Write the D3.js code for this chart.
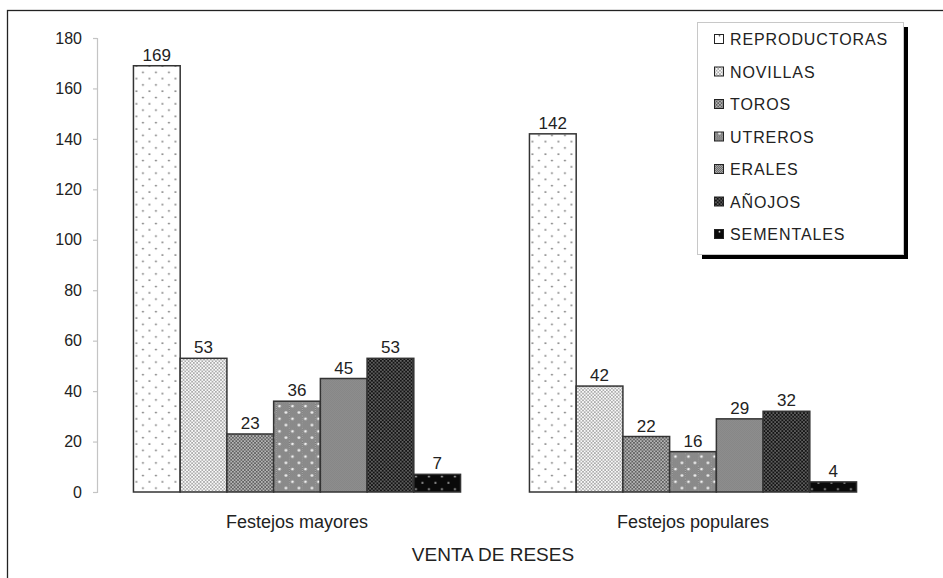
<!DOCTYPE html>
<html>
<head>
<meta charset="utf-8">
<script src="https://cdn.jsdelivr.net/npm/d3@7"></script>
<style>
  body { margin: 0; background: #fff; }
  svg { font-family: "Liberation Sans", Arial, sans-serif; }
</style>
</head>
<body>
<div id="chart"></div>
<script>
const w = 943;
const h = 578;

// data
const groups = ["Festejos mayores", "Festejos populares"];
const series = ["REPRODUCTORAS", "NOVILLAS", "TOROS", "UTREROS", "ERALES", "AÑOJOS", "SEMENTALES"];
const mayores = [169, 53, 23, 36, 45, 53, 7];
const populares = [142, 42, 22, 16, 29, 32, 4];
const yTicks = [0, 20, 40, 60, 80, 100, 120, 140, 160, 180];
const xTitle = "VENTA DE RESES";

const values = [mayores, populares];

const svg = d3.select("#chart").append("svg")
    .attr("width", w)
    .attr("height", h);

// outer frame (right/bottom sides fall off the picture)
svg.append("rect")
    .attr("x", 7.5).attr("y", 10.5)
    .attr("width", 945).attr("height", 580)
    .attr("fill", "none")
    .attr("stroke", "#222")
    .attr("stroke-width", 1.3);

// fill patterns, one per series
const defs = svg.append("defs");

const makePattern = (id, pw, ph, bg, dots, dotColor, r) => {
    const p = defs.append("pattern")
        .attr("id", id)
        .attr("patternUnits", "userSpaceOnUse")
        .attr("width", pw).attr("height", ph);
    p.append("rect").attr("width", pw).attr("height", ph).attr("fill", bg);
    dots.forEach(d => {
        p.append("circle").attr("cx", d[0]).attr("cy", d[1]).attr("r", r).attr("fill", dotColor);
    });
    return p;
}

makePattern("p0", 13, 12.6, "#fff", [[3, 3], [9.5, 9.3]], "#555", 0.85);
makePattern("p1", 3.4, 3.4, "#fafafa", [[0.85, 0.85], [2.55, 2.55]], "#8a8a8a", 0.8);
makePattern("p2", 3.4, 3.4, "#606060", [[0.85, 0.85], [2.55, 2.55]], "#dcdcdc", 0.8);
const p4 = defs.append("pattern").attr("id", "p4").attr("patternUnits", "userSpaceOnUse").attr("width", 2).attr("height", 2);
p4.append("rect").attr("width", 2).attr("height", 2).attr("fill", "#6e6e6e");
p4.append("rect").attr("width", 1).attr("height", 1).attr("fill", "#a6a6a6");
p4.append("rect").attr("x", 1).attr("y", 1).attr("width", 1).attr("height", 1).attr("fill", "#a6a6a6");
const p3 = defs.append("pattern").attr("id", "p3").attr("patternUnits", "userSpaceOnUse").attr("width", 13).attr("height", 12.6);
p3.append("rect").attr("width", 13).attr("height", 12.6).attr("fill", "url(#p4)");
p3.append("circle").attr("cx", 3).attr("cy", 3).attr("r", 1.4).attr("fill", "#f2f2f2");
p3.append("circle").attr("cx", 9.5).attr("cy", 9.3).attr("r", 1.4).attr("fill", "#f2f2f2");
makePattern("p5", 3.6, 3.6, "#141414", [[0.9, 0.9], [2.7, 2.7]], "#c8c8c8", 0.7);
makePattern("p6", 13, 12.6, "#0a0a0a", [[3, 4], [9.5, 10.3]], "#d8d8d8", 0.9);

// scales
const x0 = d3.scaleBand()
    .domain(groups)
    .range([99, 891])
    .paddingInner(0.174)
    .paddingOuter(0.087);

const x1 = d3.scaleBand()
    .domain(series)
    .range([0, x0.bandwidth()]);

const y = d3.scaleLinear()
    .domain([0, 180])
    .range([492, 38]);

// y axis
const yAxis = d3.axisLeft(y).tickValues(yTicks).tickSize(4).tickPadding(11);
const yg = svg.append("g")
    .attr("transform", "translate(97,0)")
    .call(yAxis);
yg.select(".domain").attr("stroke", "#c4c4c4").attr("stroke-width", 1.2);
yg.selectAll(".tick line").attr("stroke", "#c4c4c4").attr("stroke-width", 1.2);
yg.selectAll(".tick text")
    .attr("fill", "#222")
    .style("font-size", "16px")
    .style("font-family", "'Liberation Sans', Arial, sans-serif");

// bars
const gGroups = svg.selectAll(".grp")
    .data(groups)
    .enter()
    .append("g")
    .attr("class", "grp")
    .attr("transform", d => "translate(" + x0(d) + ",0)");

gGroups.selectAll("rect")
    .data((g, gi) => series.map((s, i) => ({ s: s, i: i, v: values[gi][i] })))
    .enter()
    .append("rect")
    .attr("x", d => x1(d.s))
    .attr("y", d => y(d.v))
    .attr("width", x1.bandwidth())
    .attr("height", d => y(0) - y(d.v))
    .attr("fill", d => "url(#p" + d.i + ")")
    .attr("stroke", "#333")
    .attr("stroke-width", 1.5);

gGroups.selectAll(".val")
    .data((g, gi) => series.map((s, i) => ({ s: s, i: i, v: values[gi][i] })))
    .enter()
    .append("text")
    .attr("class", "val")
    .attr("x", d => x1(d.s) + x1.bandwidth() / 2)
    .attr("y", d => y(d.v) - 5)
    .attr("text-anchor", "middle")
    .attr("fill", "#222")
    .style("font-size", "17px")
    .text(d => d.v);

// group labels
svg.selectAll(".glabel")
    .data(groups)
    .enter()
    .append("text")
    .attr("class", "glabel")
    .attr("x", d => x0(d) + x0.bandwidth() / 2)
    .attr("y", 528)
    .attr("text-anchor", "middle")
    .attr("fill", "#222")
    .style("font-size", "18px")
    .text(d => d);

svg.append("text")
    .attr("x", (97 + 889) / 2)
    .attr("y", 561)
    .attr("text-anchor", "middle")
    .attr("fill", "#222")
    .style("font-size", "19px")
    .text(xTitle);

// legend
const lg = svg.append("g").attr("transform", "translate(697,22)");
lg.append("rect")
    .attr("x", 5).attr("y", 5)
    .attr("width", 206).attr("height", 232)
    .attr("fill", "#000");
lg.append("rect")
    .attr("x", 0.5).attr("y", 0.5)
    .attr("width", 206).attr("height", 232)
    .attr("fill", "#fff")
    .attr("stroke", "#c8c8c8")
    .attr("stroke-width", 1);

const items = lg.selectAll(".item")
    .data(series)
    .enter()
    .append("g")
    .attr("class", "item")
    .attr("transform", (d, i) => "translate(0," + (17 + i * 32.5) + ")");

items.append("rect")
    .attr("x", 17.5).attr("y", -4.5)
    .attr("width", 9).attr("height", 9)
    .attr("fill", (d, i) => "url(#p" + i + ")")
    .attr("stroke", "#222")
    .attr("stroke-width", 1);

items.append("text")
    .attr("x", 33)
    .attr("y", 6)
    .attr("fill", "#222")
    .style("font-size", "16px")
    .style("letter-spacing", "0.9px")
    .text(d => d);
</script>
</body>
</html>
